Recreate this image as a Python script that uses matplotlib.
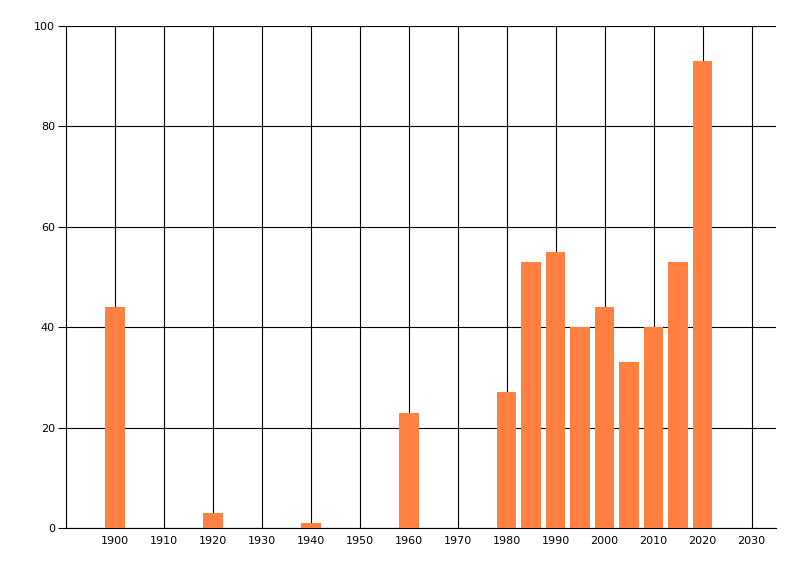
import matplotlib
matplotlib.use("Agg")
import matplotlib.pyplot as plt

years = [1900, 1920, 1940, 1960, 1980, 1985, 1990, 1995, 2000, 2005, 2010, 2015, 2020]
values = [44, 3, 1, 23, 27, 53, 55, 40, 44, 33, 40, 53, 93]
x_ticks = list(range(1900, 2031, 10))
y_ticks = [0, 20, 40, 60, 80, 100]

fig = plt.figure(figsize=(8, 5.76), dpi=100)
ax = fig.add_axes([66/800, 48/576, 710/800, 502/576])

ax.bar(years, values, width=4, color='#FF8040', zorder=3)

ax.set_xlim(1890, 2035)
ax.set_ylim(0, 100)
ax.set_xticks(x_ticks)
ax.set_yticks(y_ticks)
ax.set_xticklabels([str(t) for t in x_ticks])
ax.set_yticklabels([str(t) for t in y_ticks])
ax.grid(True, color='black', linewidth=0.8, zorder=0)
ax.set_axisbelow(True)
for s in ['top', 'right']:
    ax.spines[s].set_visible(False)
for s in ['left', 'bottom']:
    ax.spines[s].set_color('black')
    ax.spines[s].set_linewidth(0.8)
ax.tick_params(axis='y', length=6, width=0.8, labelsize=8, pad=2, colors='black')
ax.tick_params(axis='x', length=0, labelsize=8, pad=6, colors='black')

fig.savefig('out.png', dpi=100)
